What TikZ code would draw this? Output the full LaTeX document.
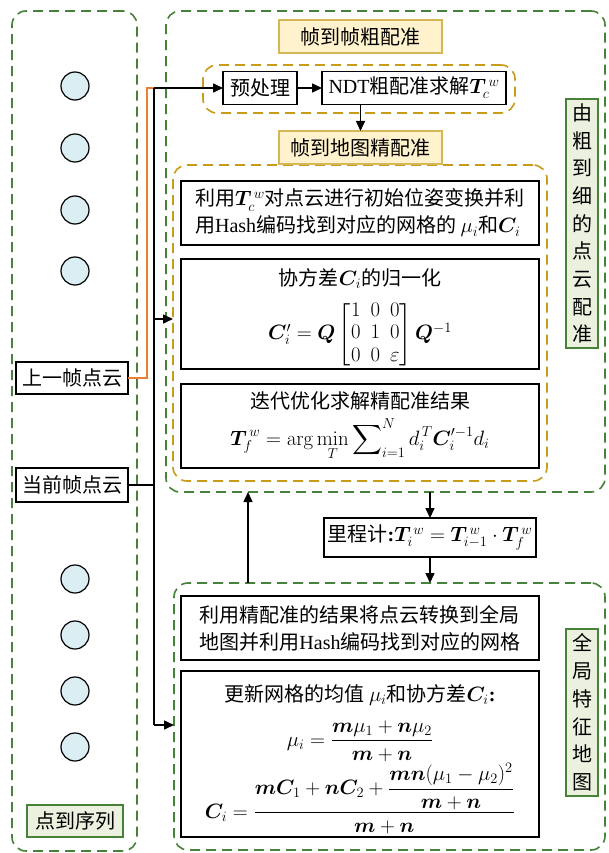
\documentclass[tikz,border=0pt]{standalone}
\usepackage{amsmath}
\usepackage{bm}
\usepackage[no-math]{fontspec}
\setmainfont{Liberation Serif}
\newfontfamily\cjk{Noto Sans CJK SC}
\newfontfamily\tnr{Liberation Serif}
\usetikzlibrary{arrows.meta}
\definecolor{grn}{RGB}{70,130,55}
\definecolor{gold}{RGB}{200,155,25}
\definecolor{ybord}{RGB}{214,182,86}
\definecolor{yfill}{RGB}{255,242,204}
\definecolor{gfill}{RGB}{235,241,222}
\definecolor{cblue}{RGB}{218,238,243}
\definecolor{orgl}{RGB}{237,125,49}
\begin{document}
\begin{tikzpicture}[x=1pt,y=-1pt,
  every node/.style={font=\cjk\fontsize{20}{27}\selectfont, inner sep=0pt, outer sep=0pt},
  grp/.style={draw=grn, line width=1.6pt, dash pattern=on 10pt off 6pt, rounded corners=14pt},
  ogrp/.style={draw=gold, line width=1.6pt, dash pattern=on 10pt off 6pt, rounded corners=14pt},
  pbox/.style={draw, line width=1.6pt, fill=white, align=center},
  ylab/.style={draw=ybord, fill=yfill, line width=1.4pt},
  glab/.style={draw=grn, fill=gfill, line width=1.4pt, align=center},
  cloudpt/.style={circle, draw, fill=cblue, line width=1.2pt, minimum size=28pt},
  arr/.style={-{Triangle[length=10pt,width=9pt]}, line width=1.5pt},
  ln/.style={line width=1.5pt},
]
\path[fill=white, use as bounding box] (0,0) rectangle (608,853);

% groups
\node[grp, minimum width=125pt, minimum height=840pt] (L) at (74.5,431) {};
\node[grp, minimum width=439pt, minimum height=481pt] (top) at (385.5,251.5) {};
\node[grp, minimum width=431pt, minimum height=267pt] (bot) at (389.5,716.5) {};
\node[ogrp, minimum width=312pt, minimum height=48pt] (coarse) at (359,89) {};
\node[ogrp, minimum width=374pt, minimum height=316pt] (fine) at (360,323) {};

% left column
\foreach \i/\yy in {1/86,2/148,3/210,4/271,5/579,6/635,7/691,8/747}
  \node[cloudpt] (c\i) at (75,\yy) {};
\node[pbox, minimum width=112pt, minimum height=32pt] (prev) at (72,378) {上一帧点云};
\node[pbox, minimum width=112pt, minimum height=34pt] (cur) at (72,485) {当前帧点云};
\node[glab, minimum width=96pt, minimum height=32pt] (seq) at (75,821) {点到序列};

% labels
\node[ylab, minimum width=163pt, minimum height=33pt] (lab1) at (360.5,36.5) {帧到帧粗配准};
\node[ylab, minimum width=163pt, minimum height=33pt] (lab2) at (360.5,147.5) {帧到地图精配准};
\node[glab, minimum width=32pt, minimum height=249pt, font=\cjk\fontsize{20}{27.7}\selectfont] (rl1) at (582,223.5) {由\\粗\\到\\细\\的\\点\\云\\配\\准};
\node[glab, minimum width=32pt, minimum height=167pt, font=\cjk\fontsize{20}{27.7}\selectfont] (rl2) at (582,712.5) {全\\局\\特\\征\\地\\图};

% coarse
\node[pbox, minimum width=74pt, minimum height=33pt] (pre) at (260,88) {预处理};
\node[pbox, minimum width=184pt, minimum height=33pt] (ndt) at (414,88) {{\tnr NDT}粗配准求解$\bm T_c^{\,w}$};

% fine
\node[pbox, minimum width=358pt, minimum height=64pt, align=left] (b1) at (360,213)
  {利用$\bm T_c^{\,w}$对点云进行初始位姿变换并利\\用{\tnr Hash}编码找到对应的网格的 $\mu_i$和$\bm C_i$};
\node[pbox, minimum width=358pt, minimum height=110pt] (b2) at (360,314) {};
\node[align=center] (b2t) at (360,318)
  {协方差$\bm C_i$的归一化\\[12pt]
   $\def\arraystretch{0.82}\bm C_i'=\bm Q\begin{bmatrix}1&0&0\\0&1&0\\0&0&\varepsilon\end{bmatrix}\bm Q^{-1}$};
\node[pbox, minimum width=358pt, minimum height=84pt] (b3) at (360,426)
  {迭代优化求解精配准结果\\[8pt]
   $\displaystyle \bm T_f^{\,w}=\arg\min_T\sum\nolimits_{i=1}^{N}d_i^{\,T}\bm C_i'^{-1}d_i$};

% odometry
\node[pbox, minimum width=212pt, minimum height=39pt] (odo) at (430,537.5)
  {里程计{\tnr\bfseries :}$\bm T_i^{\,w}=\bm T_{i-1}^{\,w}\cdot\bm T_f^{\,w}$};

% global map
\node[pbox, minimum width=358pt, minimum height=64pt, align=left] (g1) at (360,628)
  {利用精配准的结果将点云转换到全局\\地图并利用{\tnr Hash}编码找到对应的网格};
\node[pbox, minimum width=358pt, minimum height=166pt] (g2) at (360,754) {};
\node[align=center] (g2t) at (360,759)
  {更新网格的均值 $\mu_i$和协方差$\bm C_i${\tnr\bfseries :}\\[14pt]
   $\displaystyle \mu_i=\frac{\bm m\mu_1+\bm n\mu_2}{\bm m+\bm n}$\\[1pt]
   $\displaystyle \bm C_i=\frac{\bm m\bm C_1+\bm n\bm C_2+\dfrac{\bm m\bm n(\mu_1-\mu_2)^2}{\bm m+\bm n}}{\bm m+\bm n}$};

% connectors
\coordinate (jo) at (147,88);
\coordinate (jt) at (154,88);
\coordinate (jm) at (154,319);
\coordinate (jb) at (154,725);
\coordinate (up) at (248,583);
\draw[ln, orgl] (prev.east) -| (jo) -- (jt);
\draw[ln] (cur.east) -- (cur.east -| jt);
\draw[ln] (jt) -- (jb);
\draw[arr] (jt) -- (pre.west);
\draw[arr] (jm) -- (jm -| fine.west);
\draw[arr] (jb) -- (jb -| bot.west);
\draw[arr] (pre) -- (ndt);
\draw[arr] (lab2.north |- ndt.south) -- (lab2.north);
\draw[arr] (odo.north |- top.south) -- (odo.north);
\draw[arr] (odo.south) -- (odo.south |- bot.north);
\draw[arr] (up) -- (up |- top.south);
\end{tikzpicture}
\end{document}
